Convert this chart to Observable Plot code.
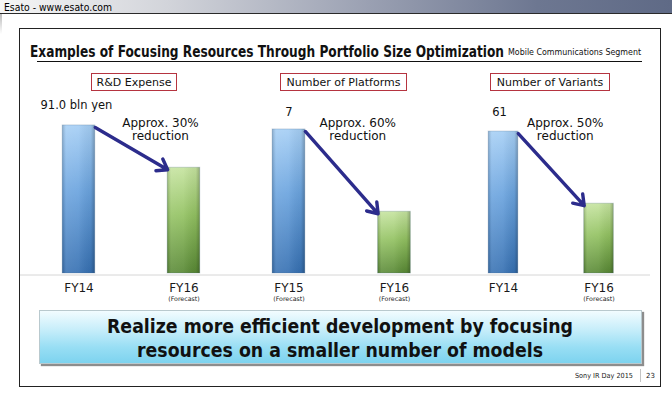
<!DOCTYPE html>
<html>
<head>
<meta charset="utf-8">
<script src="https://cdn.jsdelivr.net/npm/d3@7"></script>
<script src="https://cdn.jsdelivr.net/npm/@observablehq/plot@0.6"></script>
<style>
  html, body { margin: 0; padding: 0; background: #fff; }
  #slide { position: relative; width: 672px; height: 397px; overflow: hidden; background: #fff; font-family: "DejaVu Sans", sans-serif; color: #111; }
  .abs { position: absolute; }
  .t { position: absolute; white-space: nowrap; line-height: 1; transform-origin: left center; }
  .box { position: absolute; box-sizing: border-box; border: 1.5px solid #b53440; background: #fff; font-size: 11px; display: flex; align-items: center; justify-content: center; white-space: nowrap; }
  .plot { position: absolute; top: 95px; }
</style>
</head>
<body>
<svg width="0" height="0" style="position:absolute">
  <defs>
    <linearGradient id="gBlue" x1="0" y1="0" x2="0" y2="1">
      <stop offset="0" stop-color="#a6cff5"/>
      <stop offset="0.45" stop-color="#6aa3de"/>
      <stop offset="1" stop-color="#3670b2"/>
    </linearGradient>
    <linearGradient id="gGreen" x1="0" y1="0" x2="0" y2="1">
      <stop offset="0" stop-color="#c6e4a0"/>
      <stop offset="0.45" stop-color="#93c262"/>
      <stop offset="1" stop-color="#588834"/>
    </linearGradient>
    <linearGradient id="gShade" x1="0" y1="0" x2="1" y2="0">
      <stop offset="0" stop-color="#000" stop-opacity="0.18"/>
      <stop offset="0.12" stop-color="#fff" stop-opacity="0.12"/>
      <stop offset="0.5" stop-color="#fff" stop-opacity="0.08"/>
      <stop offset="0.88" stop-color="#000" stop-opacity="0.05"/>
      <stop offset="1" stop-color="#000" stop-opacity="0.25"/>
    </linearGradient>
  </defs>
</svg>
<div id="slide">
  <div class="abs" style="left:0;top:0;width:672px;height:13px;background:linear-gradient(to right,#f6f6f6 0%,#d2d4da 25%,#9aa0b2 55%,#6d7791 80%,#5f6a86 100%);border-bottom:1px solid #2a2a2a;"></div>
  <span class="t" id="esato" style="left:4px;top:1.5px;font-family:'DejaVu Sans',sans-serif;font-size:10.5px;color:#000;">Esato - www.esato.com</span>
  <div class="abs" style="left:0;top:14px;width:2px;height:20px;background:linear-gradient(to bottom,#bbb,#fff);"></div>

  <div class="abs" style="left:19px;top:28px;width:642px;height:359px;border:1.5px solid #222;box-sizing:border-box;"></div>

  <span class="t" id="title" style="left:30px;top:45px;font-weight:bold;font-size:15px;color:#111;">Examples of Focusing Resources Through Portfolio Size Optimization</span>
  <span class="t" id="seg" style="left:508px;top:49px;font-size:8px;color:#111;">Mobile Communications Segment</span>
  <div class="abs" style="left:37px;top:61px;width:605px;height:1px;background:#111;"></div>

  <div class="box" id="box0" style="left:91px;top:73px;width:86px;height:18px;"></div>
  <div class="box" id="box1" style="left:280px;top:73px;width:127px;height:18px;"></div>
  <div class="box" id="box2" style="left:490px;top:73px;width:120px;height:18px;"></div>

  <div id="p0" class="plot" style="left:20px;"></div>
  <div id="p1" class="plot" style="left:241px;"></div>
  <div id="p2" class="plot" style="left:456px;"></div>

  <div class="abs" style="left:39px;top:310px;width:603px;height:54px;box-sizing:border-box;background:linear-gradient(to bottom,#f2fcff 0%,#c8eefa 35%,#98def4 70%,#7dd3ef 100%);border:1px solid #b9c9ce;box-shadow:2px 2px 1px #8d8d8d;"></div>
  <span class="t" id="msg1" style="font-weight:bold;font-size:19px;color:#111;top:317px;">Realize more efficient development by focusing</span>
  <span class="t" id="msg2" style="font-weight:bold;font-size:19px;color:#111;top:341px;">resources on a smaller number of models</span>

  <span class="t" id="sony" style="left:575px;top:372.5px;font-size:7px;color:#222;">Sony IR Day 2015</span>
  <div class="abs" style="left:640px;top:369px;width:1px;height:13px;background:#c4c4c4;"></div>
  <span class="t" id="page" style="left:646px;top:372.5px;font-size:7px;color:#222;">23</span>
</div>
<script>
// ---------- data ----------
const panelTitles = ["R&D Expense", "Number of Platforms", "Number of Variants"];

const categories0 = ["FY14", "FY16"];
const values0 = [91.0, 65];
const notes0 = ["", "(Forecast)"];

const categories1 = ["FY15", "FY16"];
const values1 = [7, 3];
const notes1 = ["(Forecast)", "(Forecast)"];

const categories2 = ["FY14", "FY16"];
const values2 = [61, 30];
const notes2 = ["", "(Forecast)"];

const valueLabels = ["91.0 bln yen", "7", "61"];
const reductionLabels = ["Approx. 30%\nreduction", "Approx. 60%\nreduction", "Approx. 50%\nreduction"];

// ---------- layout / style ----------
const HW = 0.155; // half bar width in band units
const panelStyle = [
  {width: 221, xDomain: [-0.557, 1.548], yMax: 109.4, labelDx: -2.5, labelDy: -20, redDx: 29, redDy: 3.5},
  {width: 215, xDomain: [-0.450, 1.588], yMax: 8.65, labelDx: 0, labelDy: -17, redDx: 16, redDy: 0},
  {width: 194, xDomain: [-0.492, 1.539], yMax: 76.5, labelDx: -4, labelDy: -19, redDx: 14, redDy: -2}
];
const dataSets = [
  {categories: categories0, values: values0, notes: notes0},
  {categories: categories1, values: values1, notes: notes1},
  {categories: categories2, values: values2, notes: notes2}
];
const barFills = ["url(#gBlue)", "url(#gGreen)"];

function panelPlot(k) {
  const ds = dataSets[k], st = panelStyle[k];
  const rows = ds.categories.map((c, i) => ({i, cat: c, value: ds.values[i], note: ds.notes[i], fill: barFills[i]}));
  return Plot.plot({
    width: st.width, height: 215,
    marginTop: 0, marginBottom: 37, marginLeft: 0, marginRight: 0,
    style: {background: "transparent", fontFamily: "DejaVu Sans", overflow: "visible"},
    x: {domain: st.xDomain, axis: null},
    y: {domain: [0, st.yMax], axis: null},
    color: {type: "identity"},
    marks: [
      Plot.ruleY([0], {stroke: "#d6d6d6", strokeWidth: 1, dy: 1.5}),
      Plot.rectY(rows, {x1: d => d.i - HW, x2: d => d.i + HW, y1: 0, y2: "value", fill: "fill"}),
      Plot.rectY(rows, {x1: d => d.i - HW, x2: d => d.i + HW, y1: 0, y2: "value", fill: "url(#gShade)", stroke: "#4a6a8a", strokeOpacity: 0.25}),
      Plot.text(rows, {x: "i", y: 0, text: "cat", dy: 15, fontSize: 12, fill: "#1a1a1a"}),
      Plot.text(rows.filter(d => d.note), {x: "i", y: 0, text: "note", dy: 25.5, fontSize: 6.3, fill: "#1a1a1a"}),
      Plot.text([rows[0]], {x: "i", y: "value", text: () => valueLabels[k], dx: st.labelDx, dy: st.labelDy, fontSize: 11.5, fill: "#111"}),
      Plot.text([rows], {x: r => (r[0].i + r[1].i) / 2, y: r => r[0].value, text: () => reductionLabels[k], dx: st.redDx, dy: st.redDy, fontSize: 12, lineHeight: 1.1, lineAnchor: "middle", fill: "#111"}),
      Plot.arrow([rows], {
        x1: r => r[0].i + HW, y1: r => r[0].value,
        x2: r => r[1].i - HW, y2: r => r[1].value,
        dy: 2, stroke: "#2c2c8c", strokeWidth: 3.4, headLength: 5.2, headAngle: 70
      })
    ]
  });
}

for (let k = 0; k < 3; k++) {
  document.getElementById("p" + k).appendChild(panelPlot(k));
  document.getElementById("box" + k).textContent = panelTitles[k];
}

// ---------- fit text widths ----------
function fit(id, target, left) {
  const el = document.getElementById(id);
  const w = el.getBoundingClientRect().width;
  el.style.transform = `scaleX(${target / w})`;
  if (left !== undefined) el.style.left = left + "px";
  return target / w;
}
fit("esato", 108);
fit("title", 474);
fit("seg", 133);
fit("sony", 58);
const m1 = document.getElementById("msg1"), m2 = document.getElementById("msg2");
const w1 = m1.getBoundingClientRect().width, w2 = m2.getBoundingClientRect().width;
const s = 466 / w1;
m1.style.transform = `scaleX(${s})`; m1.style.left = (340 - 233) + "px";
m2.style.transform = `scaleX(${s})`; m2.style.left = (340 - w2 * s / 2) + "px";
</script>
</body>
</html>
